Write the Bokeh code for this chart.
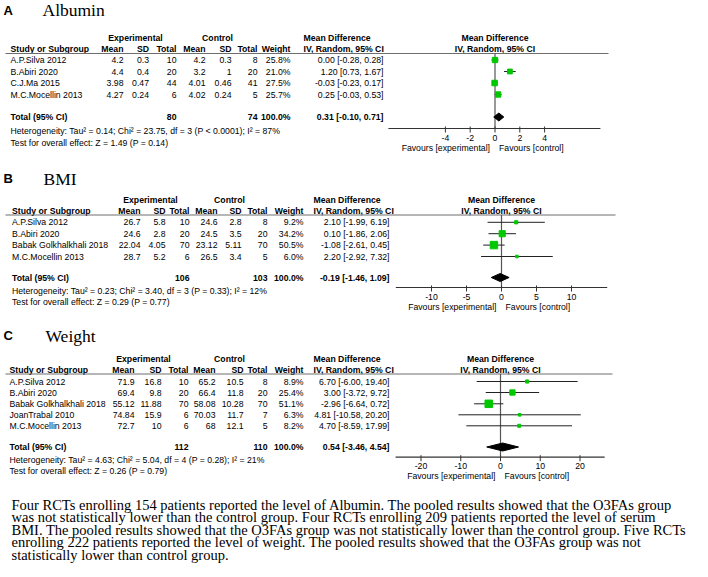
import math
from bokeh.plotting import figure
from bokeh.models import Range1d
from bokeh.embed import file_html
from bokeh.resources import INLINE
from bokeh.core.properties import value

# ---------------- data ----------------
# Panel A: Albumin
alb_study = ["A.P.Silva 2012", "B.Abiri 2020", "C.J.Ma 2015", "M.C.Mocellin 2013"]
alb_exp_mean = [4.2, 4.4, 3.98, 4.27]
alb_exp_sd = [0.3, 0.4, 0.47, 0.24]
alb_exp_n = [10, 20, 44, 6]
alb_ctl_mean = [4.2, 3.2, 4.01, 4.02]
alb_ctl_sd = [0.3, 1, 0.46, 0.24]
alb_ctl_n = [8, 20, 41, 5]
alb_weight = [25.8, 21.0, 27.5, 25.7]
alb_md = [0.00, 1.20, -0.03, 0.25]
alb_lo = [-0.28, 0.73, -0.23, -0.03]
alb_hi = [0.28, 1.67, 0.17, 0.53]
alb_total_n = [80, 74]
alb_total_ci = [0.31, -0.10, 0.71]
alb_het = "Heterogeneity: Tau\u00b2 = 0.14; Chi\u00b2 = 23.75, df = 3 (P < 0.0001); I\u00b2 = 87%"
alb_test = "Test for overall effect: Z = 1.49 (P = 0.14)"
alb_ticks = [-4, -2, 0, 2, 4]

# Panel B: BMI
bmi_study = ["A.P.Silva 2012", "B.Abiri 2020", "Babak Golkhalkhali 2018", "M.C.Mocellin 2013"]
bmi_exp_mean = [26.7, 24.6, 22.04, 28.7]
bmi_exp_sd = [5.8, 2.8, 4.05, 5.2]
bmi_exp_n = [10, 20, 70, 6]
bmi_ctl_mean = [24.6, 24.5, 23.12, 26.5]
bmi_ctl_sd = [2.8, 3.5, 5.11, 3.4]
bmi_ctl_n = [8, 20, 70, 5]
bmi_weight = [9.2, 34.2, 50.5, 6.0]
bmi_md = [2.10, 0.10, -1.08, 2.20]
bmi_lo = [-1.99, -1.86, -2.61, -2.92]
bmi_hi = [6.19, 2.06, 0.45, 7.32]
bmi_total_n = [106, 103]
bmi_total_ci = [-0.19, -1.46, 1.09]
bmi_het = "Heterogeneity: Tau\u00b2 = 0.23; Chi\u00b2 = 3.40, df = 3 (P = 0.33); I\u00b2 = 12%"
bmi_test = "Test for overall effect: Z = 0.29 (P = 0.77)"
bmi_ticks = [-10, -5, 0, 5, 10]

# Panel C: Weight
wt_study = ["A.P.Silva 2012", "B.Abiri 2020", "Babak Golkhalkhali 2018", "JoanTrabal 2010", "M.C.Mocellin 2013"]
wt_exp_mean = [71.9, 69.4, 55.12, 74.84, 72.7]
wt_exp_sd = [16.8, 9.8, 11.88, 15.9, 10]
wt_exp_n = [10, 20, 70, 6, 6]
wt_ctl_mean = [65.2, 66.4, 58.08, 70.03, 68]
wt_ctl_sd = [10.5, 11.8, 10.28, 11.7, 12.1]
wt_ctl_n = [8, 20, 70, 7, 5]
wt_weight = [8.9, 25.4, 51.1, 6.3, 8.2]
wt_md = [6.70, 3.00, -2.96, 4.81, 4.70]
wt_lo = [-6.00, -3.72, -6.64, -10.58, -8.59]
wt_hi = [19.40, 9.72, 0.72, 20.20, 17.99]
wt_total_n = [112, 110]
wt_total_ci = [0.54, -3.46, 4.54]
wt_het = "Heterogeneity: Tau\u00b2 = 4.63; Chi\u00b2 = 5.04, df = 4 (P = 0.28); I\u00b2 = 21%"
wt_test = "Test for overall effect: Z = 0.26 (P = 0.79)"
wt_ticks = [-20, -10, 0, 10, 20]

total_weight = 100.0
panel_letters = ["A", "B", "C"]
panel_titles = ["Albumin", "BMI", "Weight"]

paragraph = [
    "Four RCTs enrolling 154 patients reported the level of Albumin. The pooled results showed that the O3FAs group",
    "was not statistically lower than the control group. Four RCTs enrolling 209 patients reported the level of serum",
    "BMI. The pooled results showed that the O3FAs group was not statistically lower than the control group. Five RCTs",
    "enrolling 222 patients reported the level of weight. The pooled results showed that the O3FAs group was not",
    "statistically lower than control group.",
]

# ---------------- layout (picture pixels) ----------------
LAYOUTS = [
    dict(title_y=9.5, letter_x=3, title_x=42, h1=37, h2=48.5, ul=53, ul_start=5, ul_end=608,
         rows=[59.5, 71, 82.5, 94], total=116.5, het=130, test=142.5,
         axis=128, ticklab=137.5, fav=147,
         study_x=10, cols=[123, 148.5, 176, 205, 231, 257, 290], ci_x=383, md_hdr_x=303,
         exp_c=135, ctl_c=217, X0=494.5, ppu=12.4, lim=(-8.6, 8.5)),
    dict(title_y=178, letter_x=3, title_x=43, h1=199.5, h2=210.5, ul=214.5, ul_start=5, ul_end=615,
         rows=[221.8, 233.2, 244.6, 256], total=277, het=290, test=301.7,
         axis=287, ticklab=296.7, fav=306,
         study_x=11.5, cols=[140, 165, 189, 217, 241, 267, 303], ci_x=389, md_hdr_x=313,
         exp_c=150, ctl_c=229, X0=501, ppu=7.0, lim=(-15.1, 15.1)),
    dict(title_y=335, letter_x=3, title_x=45, h1=358.5, h2=369.5, ul=373.5, ul_start=5, ul_end=612,
         rows=[381, 392, 403.3, 414.3, 425.3], total=446.5, het=459.3, test=470,
         axis=456.7, ticklab=465.7, fav=475,
         study_x=9, cols=[134, 161, 188, 215, 243, 267, 303], ci_x=389, md_hdr_x=313,
         exp_c=143, ctl_c=229, X0=500, ppu=3.975, lim=(-26.4, 26.2)),
]

W, H = 708, 577
SANS = value("Liberation Sans")
SERIF = value("Liberation Serif")
FS = "8.7px"
GREEN = "#00c800"

p = figure(width=W, height=H, x_range=Range1d(0, W), y_range=Range1d(H, 0),
           output_backend="svg", toolbar_location=None, min_border=0,
           x_axis_location=None, y_axis_location=None)
p.grid.visible = False
p.outline_line_color = None
p.background_fill_color = "white"
p.border_fill_color = "white"

for i, L in enumerate(LAYOUTS):
    p.extra_x_ranges["f%d" % i] = Range1d((0 - L["X0"]) / L["ppu"], (W - L["X0"]) / L["ppu"])


def txt(xs, ys, ts, align="left", bold=False, size=FS, font=SANS, rn=None, xoff=0):
    kw = dict(x=xs, y=ys, text=ts, text_font=font, text_font_size=size, text_align=align,
              text_baseline="middle", text_color="black",
              text_font_style="bold" if bold else "normal", x_offset=xoff)
    if rn:
        kw["x_range_name"] = rn
    p.text(**kw)


def fmt(v):
    return str(v)


def draw_panel(i, study, em, esd, en, cm, csd, cn, wgt, md, lo, hi, tot_n, tot_ci, het, test, ticks):
    L = LAYOUTS[i]
    rn = "f%d" % i
    n = len(study)
    rows = L["rows"]
    c = L["cols"]
    # titles
    txt([L["letter_x"]], [L["title_y"]], [panel_letters[i]], bold=True, size="13px")
    txt([L["title_x"]], [L["title_y"]], [panel_titles[i]], size="17.5px", font=SERIF)
    # headers
    txt([L["exp_c"], L["ctl_c"]], [L["h1"]] * 2, ["Experimental", "Control"], align="center", bold=True)
    txt([L["md_hdr_x"]] * 2, [L["h1"], L["h2"]], ["Mean Difference", "IV, Random, 95% CI"], bold=True)
    txt([L["study_x"]], [L["h2"]], ["Study or Subgroup"], bold=True)
    txt(c, [L["h2"]] * 7, ["Mean", "SD", "Total", "Mean", "SD", "Total", "Weight"], align="right", bold=True)
    txt([0, 0], [L["h1"], L["h2"]], ["Mean Difference", "IV, Random, 95% CI"], align="center", bold=True, rn=rn)
    p.segment(x0=[L["ul_start"]], x1=[L["ul_end"]], y0=[L["ul"]], y1=[L["ul"]], line_color="#6e6e6e",
              line_width=1.2)
    # study rows
    txt([L["study_x"]] * n, rows, study)
    for k, vals in enumerate([em, esd, en, cm, csd, cn]):
        txt([c[k]] * n, rows, [fmt(v) for v in vals], align="right")
    txt([c[6]] * n, rows, ["%.1f%%" % w for w in wgt], align="right")
    txt([L["ci_x"]] * n, rows, ["%.2f [%.2f, %.2f]" % (a, b, d) for a, b, d in zip(md, lo, hi)], align="right")
    # total row
    txt([L["study_x"]], [L["total"]], ["Total (95% CI)"], bold=True)
    txt([c[2], c[5], c[6]], [L["total"]] * 3, [str(tot_n[0]), str(tot_n[1]), "%.1f%%" % total_weight],
        align="right", bold=True)
    txt([L["ci_x"]], [L["total"]], ["%.2f [%.2f, %.2f]" % tuple(tot_ci)], align="right", bold=True)
    txt([L["study_x"]] * 2, [L["het"], L["test"]], [het, test])
    # forest plot
    p.segment(x0=[0], x1=[0], y0=[L["ul"]], y1=[L["axis"]], line_color="#555555", line_width=1.2, x_range_name=rn)
    p.segment(x0=lo, x1=hi, y0=rows, y1=rows, line_color="#222222", line_width=1, x_range_name=rn)
    p.scatter(x=md, y=rows, size=[1.05 * math.sqrt(w) for w in wgt], marker="square",
              fill_color=GREEN, line_color=GREEN, x_range_name=rn)
    ty = L["total"]
    p.patch(x=[tot_ci[1], tot_ci[0], tot_ci[2], tot_ci[0]], y=[ty, ty - 4, ty, ty + 4],
            fill_color="black", line_color="black", x_range_name=rn)
    ay = L["axis"]
    p.segment(x0=[L["lim"][0]], x1=[L["lim"][1]], y0=[ay], y1=[ay], line_color="#333333", line_width=1.2,
              x_range_name=rn)
    nt = len(ticks)
    p.segment(x0=ticks, x1=ticks, y0=[ay - 2] * nt, y1=[ay + 4] * nt, line_color="#333333", line_width=1,
              x_range_name=rn)
    txt(ticks, [L["ticklab"]] * nt, [str(t) for t in ticks], align="center", rn=rn)
    txt([0], [L["fav"]], ["Favours [experimental]"], align="right", rn=rn, xoff=-5)
    txt([0], [L["fav"]], ["Favours [control]"], align="left", rn=rn, xoff=4)


draw_panel(0, alb_study, alb_exp_mean, alb_exp_sd, alb_exp_n, alb_ctl_mean, alb_ctl_sd, alb_ctl_n,
           alb_weight, alb_md, alb_lo, alb_hi, alb_total_n, alb_total_ci, alb_het, alb_test, alb_ticks)
draw_panel(1, bmi_study, bmi_exp_mean, bmi_exp_sd, bmi_exp_n, bmi_ctl_mean, bmi_ctl_sd, bmi_ctl_n,
           bmi_weight, bmi_md, bmi_lo, bmi_hi, bmi_total_n, bmi_total_ci, bmi_het, bmi_test, bmi_ticks)
draw_panel(2, wt_study, wt_exp_mean, wt_exp_sd, wt_exp_n, wt_ctl_mean, wt_ctl_sd, wt_ctl_n,
           wt_weight, wt_md, wt_lo, wt_hi, wt_total_n, wt_total_ci, wt_het, wt_test, wt_ticks)

# paragraph
para_y = [504, 516.5, 529, 541.5, 554]
txt([11] * len(paragraph), para_y, paragraph, size="14.5px", font=SERIF)

open("out.html", "w").write(file_html(p, INLINE))
